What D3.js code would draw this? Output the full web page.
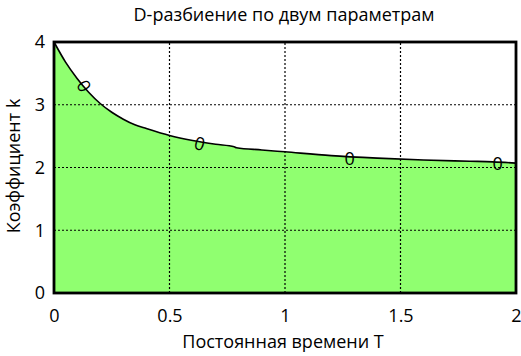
<!DOCTYPE html>
<html>
<head>
<meta charset="utf-8">
<script src="https://cdn.jsdelivr.net/npm/d3@7"></script>
<style>
  html, body { margin: 0; padding: 0; background: #fff; }
  svg { display: block; font-family: "Open Sans", "Noto Sans", sans-serif; }
</style>
</head>
<body>
<svg id="chart" width="521" height="356"></svg>
<script>
// Boundary of the stability region in the (T, k) plane
const timeConst = [0, 0.05, 0.1, 0.15, 0.2, 0.25, 0.3, 0.35, 0.4, 0.5, 0.6, 0.7, 0.78, 0.79, 0.9, 1.0, 1.2, 1.4, 1.6, 1.8, 1.9, 2.0];
const gainK     = [4.0, 3.68, 3.42, 3.2, 3.02, 2.88, 2.77, 2.68, 2.62, 2.51, 2.43, 2.37, 2.33, 2.315, 2.28, 2.25, 2.19, 2.15, 2.12, 2.1, 2.09, 2.07];

// Hatching marks "0" placed along the boundary
const markT   = [0.13, 0.63, 1.28, 1.92];
const markK   = [3.3, 2.38, 2.14, 2.07];
const markRot = [60, 15, 0, 0];

const xTicks = [0, 0.5, 1, 1.5, 2];
const yTicks = [0, 1, 2, 3, 4];

const title  = "D-разбиение по двум параметрам";
const xLabel = "Постоянная времени Т";
const yLabel = "Коэффициент k";

const svg = d3.select("#chart");
const margin = { left: 54, right: 5, top: 42, bottom: 63 };
const W = 521, H = 356;
const FS = 18;

const x = d3.scaleLinear().domain([0, 2]).range([margin.left, W - margin.right]);
const y = d3.scaleLinear().domain([0, 4]).range([H - margin.bottom, margin.top]);

const pts = timeConst.map((t, i) => [t, gainK[i]]);

// filled region under the boundary
svg.append("path")
  .datum(pts)
  .attr("fill", "#90ff70")
  .attr("d", d3.area().x(d => x(d[0])).y0(y(0)).y1(d => y(d[1])).curve(d3.curveMonotoneX));

// dotted grid
const grid = svg.append("g").attr("stroke", "#000").attr("stroke-width", 1.2).attr("stroke-dasharray", "2,2");
grid.selectAll("line.gx").data(xTicks.slice(1, -1)).join("line")
  .attr("x1", d => x(d)).attr("x2", d => x(d)).attr("y1", y(0)).attr("y2", y(4));
grid.selectAll("line.gy").data(yTicks.slice(1, -1)).join("line")
  .attr("y1", d => y(d)).attr("y2", d => y(d)).attr("x1", x(0)).attr("x2", x(2));

// boundary curve
svg.append("path")
  .datum(pts)
  .attr("fill", "none")
  .attr("stroke", "#000")
  .attr("stroke-width", 1.6)
  .attr("d", d3.line().x(d => x(d[0])).y(d => y(d[1])).curve(d3.curveMonotoneX));

// "0" marks
svg.append("g").selectAll("text").data(markT).join("text")
  .attr("transform", (d, i) => `translate(${x(d)},${y(markK[i])}) rotate(${markRot[i]})`)
  .attr("text-anchor", "middle")
  .attr("dy", "0.36em")
  .attr("font-size", FS)
  .text("0");

// frame
svg.append("rect")
  .attr("x", x(0)).attr("y", y(4))
  .attr("width", x(2) - x(0)).attr("height", y(0) - y(4))
  .attr("fill", "none").attr("stroke", "#000").attr("stroke-width", 2.8);

// axes (labels only)
const xAxis = svg.append("g").attr("transform", `translate(0,${y(0)})`)
  .call(d3.axisBottom(x).tickValues(xTicks).tickSize(0).tickPadding(16).tickFormat(d3.format("")));
const yAxis = svg.append("g").attr("transform", `translate(${x(0)},0)`)
  .call(d3.axisLeft(y).tickValues(yTicks).tickSize(0).tickPadding(9).tickFormat(d3.format("")));
[xAxis, yAxis].forEach(a => {
  a.select(".domain").remove();
  a.selectAll("text").attr("font-size", FS).attr("fill", "#000")
    .attr("font-family", "\"Open Sans\", \"Noto Sans\", sans-serif");
});

svg.append("text").attr("x", 284).attr("y", 21).attr("text-anchor", "middle")
  .attr("font-size", FS).text(title);
svg.append("text").attr("x", 283).attr("y", 348).attr("text-anchor", "middle")
  .attr("font-size", FS).text(xLabel);
svg.append("text").attr("transform", "translate(20,166) rotate(-90)").attr("text-anchor", "middle")
  .attr("font-size", FS).text(yLabel);
</script>
</body>
</html>
